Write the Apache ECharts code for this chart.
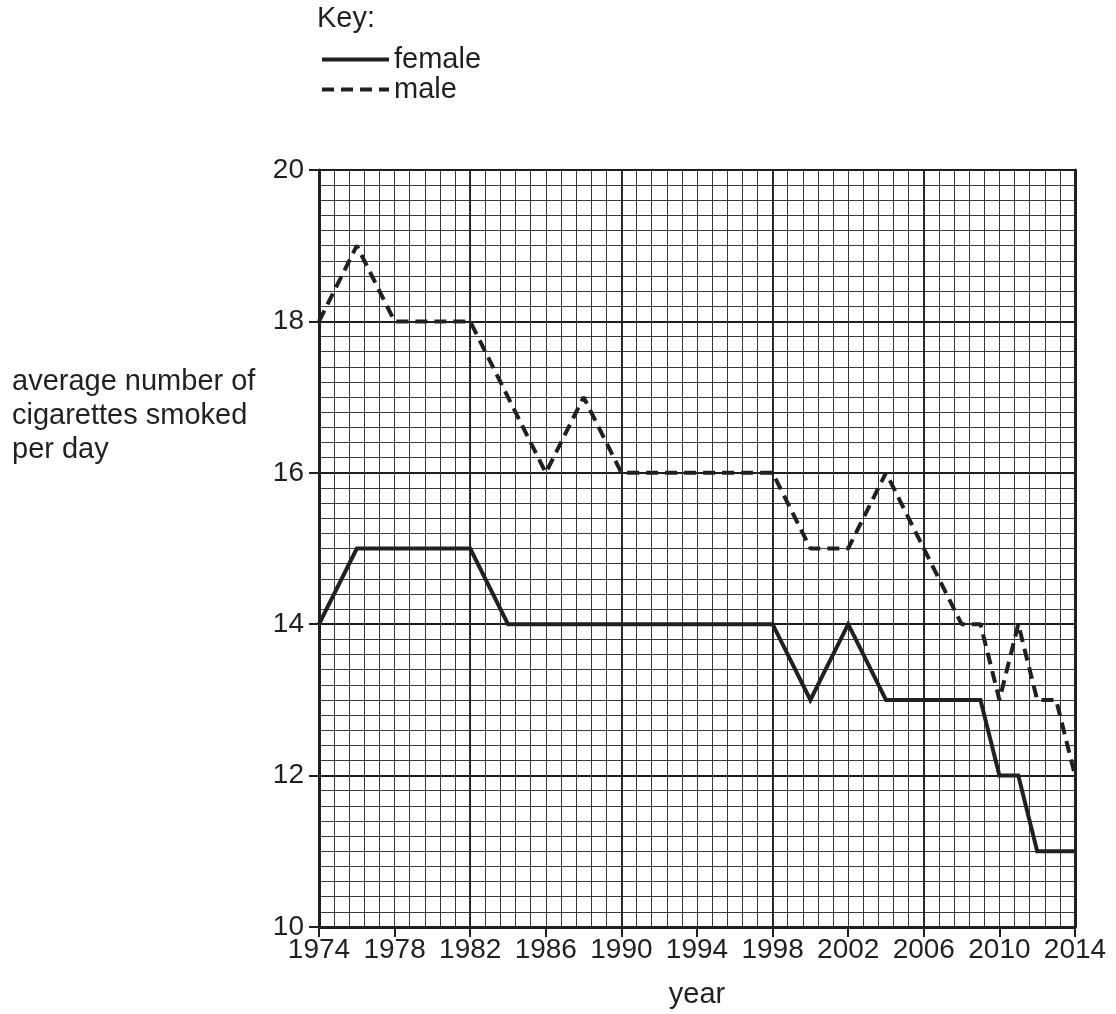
<!DOCTYPE html>
<html>
<head>
<meta charset="utf-8">
<title>average number of cigarettes smoked per day</title>
<script src="https://cdn.jsdelivr.net/npm/echarts@6/dist/echarts.min.js"></script>
<style>
  html, body { margin: 0; padding: 0; background: #fff; }
  #chart { width: 1116px; height: 1014px; }
</style>
</head>
<body>
<div id="chart"></div>
<script>
// values
const femaleYears = [1974, 1976, 1982, 1984, 1998, 2000, 2002, 2004, 2009, 2010, 2011, 2012, 2014];
const femaleValues = [14, 15, 15, 14, 14, 13, 14, 13, 13, 12, 12, 11, 11];
const maleYears = [1974, 1976, 1978, 1982, 1986, 1988, 1990, 1998, 2000, 2002, 2004, 2008, 2009, 2010, 2011, 2012, 2013, 2014];
const maleValues = [18, 19, 18, 18, 16, 17, 16, 16, 15, 15, 16, 14, 14, 13, 14, 13, 13, 12];

const xTicks = { min: 1974, max: 2014, step: 4 };
const yTicks = { min: 10, max: 20, step: 2 };

const ink = "#231f20";
const font = "'Liberation Sans', Arial, sans-serif";

let myChart = echarts.init(document.getElementById("chart"));

// [year, value] pairs for the value axes
function pairs(years, values) {
  return years.map((y, i) => [y, values[i]]);
}

// thin lines of the graph paper
const minorLine = { color: "#3a3a3a", width: 1 };
// darker lines every 8 years / 2 cigarettes
const majorLine = { color: "#1e1e1e", width: 1.8 };

let option = {
  animation: false,
  title: {
    text: "Key:",
    left: 317,
    top: 4,
    padding: 0,
    textStyle: { color: ink, fontFamily: font, fontSize: 29, fontWeight: "normal" },
  },
  legend: {
    data: ["female", "male"],
    orient: "vertical",
    left: 320,
    top: 45,
    padding: 0,
    itemWidth: 67,
    itemHeight: 8,
    itemGap: 1,
    // hide the little symbol, keep only the line
    itemStyle: { opacity: 0 },
    lineStyle: { width: 4 },
    textStyle: { color: ink, fontFamily: font, fontSize: 29, lineHeight: 29 },
  },
  grid: {
    left: 319,
    right: 41,
    top: 170,
    bottom: 87,
    containLabel: false,
  },
  xAxis: [
    {
      type: "value",
      min: xTicks.min,
      max: xTicks.max,
      interval: xTicks.step,
      axisLine: { show: true, onZero: false, lineStyle: { color: ink, width: 3 } },
      axisTick: { show: true, length: 10, lineStyle: { color: ink, width: 2 } },
      axisLabel: {
        color: ink,
        fontFamily: font,
        fontSize: 28,
        margin: 9,
        showMinLabel: true,
        showMaxLabel: true,
        formatter: (v) => String(v),
      },
      splitLine: { show: true, lineStyle: minorLine },
      minorTick: { show: false, splitNumber: 5 },
      minorSplitLine: { show: true, lineStyle: minorLine },
    },
    {
      // only for the heavier 8-year lines
      type: "value",
      min: xTicks.min,
      max: xTicks.max,
      interval: 8,
      position: "bottom",
      axisLine: { show: false },
      axisTick: { show: false },
      axisLabel: { show: false },
      splitLine: { show: true, lineStyle: majorLine },
    },
  ],
  yAxis: [
    {
      type: "value",
      min: yTicks.min,
      max: yTicks.max,
      interval: yTicks.step,
      axisLine: { show: true, onZero: false, lineStyle: { color: ink, width: 3 } },
      axisTick: { show: true, length: 10, lineStyle: { color: ink, width: 2 } },
      axisLabel: { color: ink, fontFamily: font, fontSize: 28, margin: 15 },
      splitLine: { show: true, lineStyle: majorLine },
      minorTick: { show: false, splitNumber: 10 },
      minorSplitLine: { show: true, lineStyle: minorLine },
    },
    {
      // right hand border of the paper
      type: "value",
      min: yTicks.min,
      max: yTicks.max,
      interval: yTicks.step,
      position: "right",
      axisLine: { show: true, onZero: false, lineStyle: { color: ink, width: 3 } },
      axisTick: { show: false },
      axisLabel: { show: false },
      splitLine: { show: false },
    },
  ],
  graphic: [
    {
      type: "text",
      left: 12,
      top: 365,
      style: {
        text: "average number of\ncigarettes smoked\nper day",
        fill: ink,
        font: "29px " + font,
        lineHeight: 34,
      },
    },
    {
      type: "text",
      x: 697,
      y: 995,
      style: {
        text: "year",
        fill: ink,
        font: "29px " + font,
        align: "center",
        verticalAlign: "middle",
      },
    },
  ],
  series: [
    {
      name: "female",
      type: "line",
      data: pairs(femaleYears, femaleValues),
      symbol: "none",
      z: 5,
      itemStyle: { color: ink },
      lineStyle: { color: ink, width: 4, join: "miter" },
    },
    {
      name: "male",
      type: "line",
      data: pairs(maleYears, maleValues),
      symbol: "none",
      z: 5,
      itemStyle: { color: ink },
      lineStyle: { color: ink, width: 4, type: [12, 7] },
    },
  ],
};

myChart.setOption(option);
</script>
</body>
</html>
